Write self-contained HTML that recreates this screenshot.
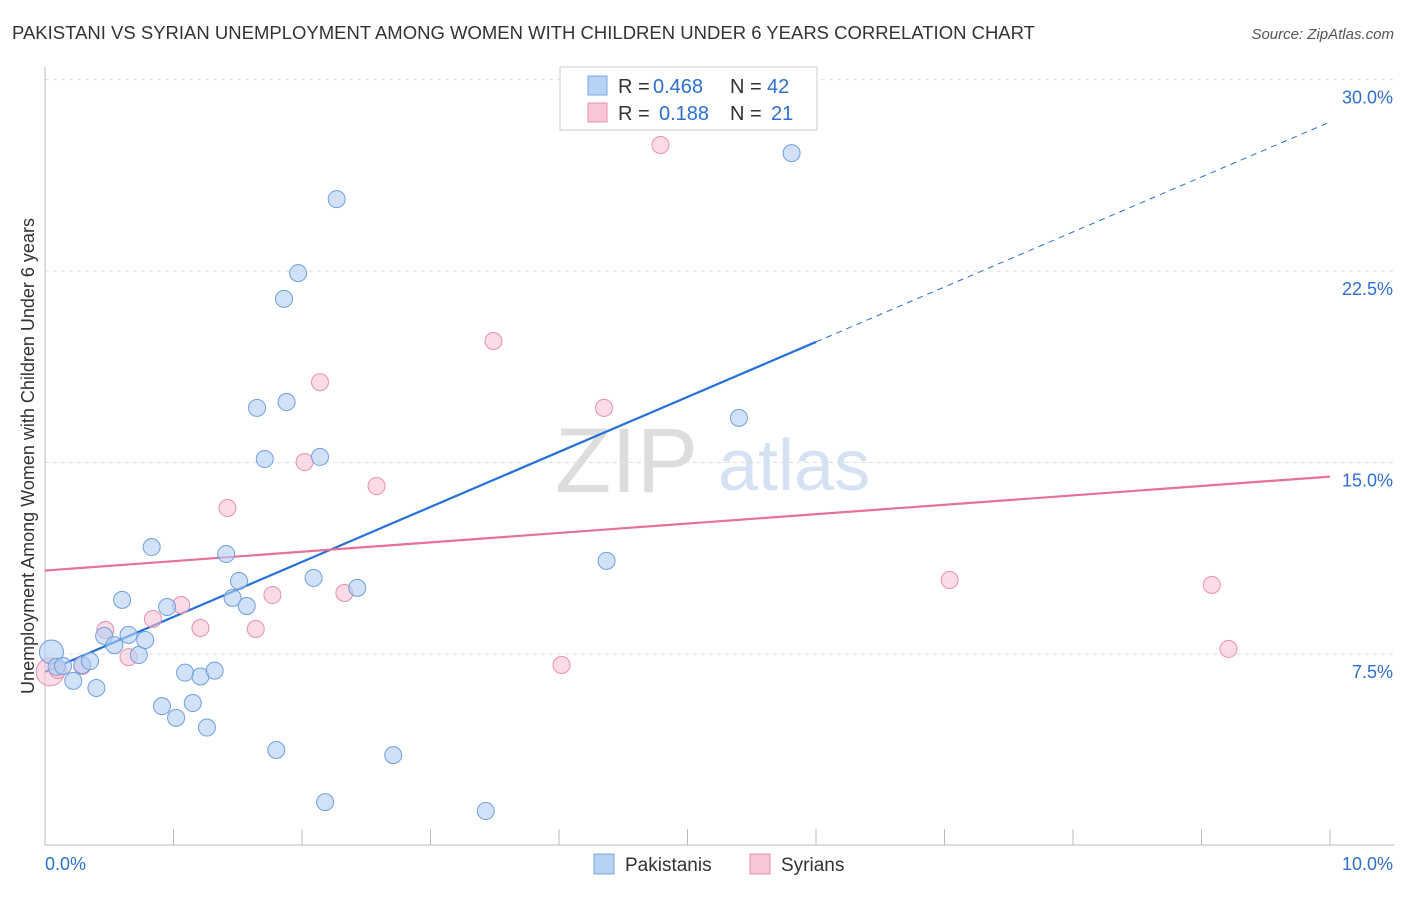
<!DOCTYPE html>
<html><head><meta charset="utf-8"><style>
body{margin:0;background:#fff;font-family:"Liberation Sans",sans-serif}
svg text{font-family:"Liberation Sans",sans-serif}
</style></head><body>
<svg width="1406" height="892" viewBox="0 0 1406 892">
<text x="12" y="39" font-size="18" fill="#333" textLength="1023" lengthAdjust="spacingAndGlyphs">PAKISTANI VS SYRIAN UNEMPLOYMENT AMONG WOMEN WITH CHILDREN UNDER 6 YEARS CORRELATION CHART</text>
<text x="1394" y="39" font-size="15" fill="#555" text-anchor="end" font-style="italic">Source: ZipAtlas.com</text>
<text x="555" y="492" font-size="92" fill="#ddd" font-family="Liberation Serif">ZIP</text>
<text x="718" y="490" font-size="72" fill="#d4e2f4">atlas</text>
<g id="grid"></g><g id="axes"></g>
<text transform="translate(34,456) rotate(-90)" font-size="18" fill="#333" text-anchor="middle">Unemployment Among Women with Children Under 6 years</text>
<g id="lines"></g><g id="pts"></g>
<g>
<rect x="560" y="67" width="257" height="63" fill="#fff" stroke="#ccc"/>
<rect x="588" y="76" width="19" height="19" fill="#b7d2f5" stroke="#7aa8e0"/>
<rect x="588" y="103" width="19" height="19" fill="#f9c6d6" stroke="#e890aa"/>
<text x="618" y="93" font-size="20" fill="#333">R =</text>
<text x="653" y="93" font-size="20" fill="#2e6fd0">0.468</text>
<text x="730" y="93" font-size="20" fill="#333">N =</text>
<text x="767" y="93" font-size="20" fill="#2e6fd0">42</text>
<text x="618" y="120" font-size="20" fill="#333">R =</text>
<text x="659" y="120" font-size="20" fill="#2e6fd0">0.188</text>
<text x="730" y="120" font-size="20" fill="#333">N =</text>
<text x="771" y="120" font-size="20" fill="#2e6fd0">21</text>
</g>
<g>
<rect x="594" y="854" width="20" height="20" fill="#b7d2f5" stroke="#7aa8e0"/>
<text x="625" y="871" font-size="19" fill="#333">Pakistanis</text>
<rect x="750" y="854" width="20" height="20" fill="#f9c6d6" stroke="#e890aa"/>
<text x="781" y="871" font-size="19" fill="#333">Syrians</text>
</g>
</svg>
<script>
const yTicks=[7.5,15,22.5,30];
const yTickLabels=["7.5%","15.0%","22.5%","30.0%"];
const pakX=[0.05,0.09,0.14,0.22,0.29,0.35,0.40,0.46,0.54,0.60,0.65,0.73,0.78,0.83,0.91,0.95,1.02,1.09,1.15,1.21,1.26,1.32,1.41,1.46,1.51,1.57,1.65,1.71,1.80,1.86,1.88,1.97,2.09,2.14,2.18,2.27,2.43,2.71,3.43,4.37,5.40,5.81];
const pakY=[7.58,7.00,7.03,6.45,7.07,7.22,6.17,8.21,7.85,9.62,8.25,7.46,8.05,11.69,5.46,9.34,5.00,6.77,5.58,6.62,4.62,6.85,11.42,9.70,10.36,9.38,17.14,15.14,3.74,21.41,17.37,22.42,10.48,15.22,1.70,25.32,10.09,3.54,1.35,11.15,16.75,27.12];
const syrX=[0.04,0.10,0.29,0.47,0.65,0.84,1.06,1.21,1.42,1.64,1.77,2.02,2.14,2.33,2.58,3.49,4.02,4.35,4.79,7.04,9.08,9.21];
const syrY=[6.80,6.88,7.03,8.44,7.38,8.87,9.42,8.52,13.22,8.48,9.81,15.02,18.15,9.89,14.08,19.76,7.07,17.14,27.44,10.40,10.21,7.70];
const pakFit=[6.80,28.34];
const syrFit=[10.77,14.45];
const NS="http://www.w3.org/2000/svg";
const X=v=>45+v*128.5, Y=v=>845.5-v*25.53;
function mk(t,a,p){const e=document.createElementNS(NS,t);for(const k in a)e.setAttribute(k,a[k]);document.getElementById(p).appendChild(e);return e;}
yTicks.forEach((t,i)=>{
 const g=mk('line',{x1:45,x2:1394,y1:Y(t),y2:Y(t),stroke:'#ddd','stroke-dasharray':'4,4'},'grid');
 
 
 const tx=mk('text',{x:1393,y:Y(t)+24,'font-size':18,fill:'#2e6fd0','text-anchor':'end'},'grid');tx.textContent=yTickLabels[i];
 
 
});
const ax=mk('line',{x1:45,x2:45,y1:67,y2:845,stroke:'#bbb'},'axes');


const bx=mk('line',{x1:45,x2:1394,y1:845,y2:845,stroke:'#bbb'},'axes');


for(let i=0;i<=10;i++){const t=mk('line',{x1:X(i),x2:X(i),y1:829,y2:845,stroke:'#bbb'},'axes');
 
 }
[["0.0%",45,'start'],["10.0%",1393,'end']].forEach(a=>{const t=mk('text',{x:a[1],y:870,'font-size':18,fill:'#2e6fd0','text-anchor':a[2]},'axes');t.textContent=a[0];
 
 });
const fy=(f,x)=>f[0]+(f[1]-f[0])*x/10;
let l=mk('line',{x1:X(0),y1:Y(fy(pakFit,0)),x2:X(6),y2:Y(fy(pakFit,6)),stroke:'#2470d8','stroke-width':2.2},'lines');


l=mk('line',{x1:X(6),y1:Y(fy(pakFit,6)),x2:X(10),y2:Y(fy(pakFit,10)),stroke:'#2470d8','stroke-width':1,'stroke-dasharray':'6,5'},'lines');


l=mk('line',{x1:X(0),y1:Y(syrFit[0]),x2:X(10),y2:Y(syrFit[1]),stroke:'#e8709a','stroke-width':2.2},'lines');


syrX.forEach((x,i)=>{const c=mk('circle',{cx:X(x),cy:Y(syrY[i]),r:i==0?14:8.5,fill:'#f7bfd2','fill-opacity':0.55,stroke:'#e890aa','stroke-width':1},'pts');
 
 });
pakX.forEach((x,i)=>{const c=mk('circle',{cx:X(x),cy:Y(pakY[i]),r:i==0?12:8.5,fill:'#b2cff3','fill-opacity':0.6,stroke:'#6f9fdc','stroke-width':1},'pts');
 
 });
</script>
</body></html>
